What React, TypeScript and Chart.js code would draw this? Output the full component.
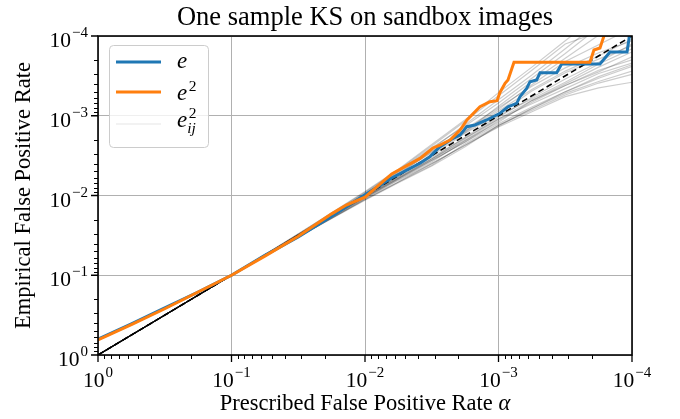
import React, { useEffect, useRef } from "react";
import { Chart, registerables } from "chart.js";

Chart.register(...registerables);

// ---------- text ----------
const TITLE = "One sample KS on sandbox images";
const X_LABEL = "Prescribed False Positive Rate";
const Y_LABEL = "Empirical False Positive Rate";

// ---------- axes (log10 exponents) ----------
const TICK_EXPONENTS = [0, -1, -2, -3, -4];
const MINOR_MANTISSAS = [2, 3, 4, 5, 6, 7, 8, 9];

// ---------- data, stored as log10 values ----------
// e (blue)
const E_LOG_X = [0, -0.25, -0.5, -0.75, -1, -1.25, -1.5, -1.75, -2, -2.2, -2.412, -2.487, -2.562, -2.659, -2.712, -2.762, -2.824, -2.912, -3.011, -3.071, -3.136, -3.161, -3.211, -3.236, -3.286, -3.311, -3.436, -3.473, -3.76, -3.835, -3.963, -3.985];
const E_LOG_Y = [-0.2, -0.39, -0.59, -0.79, -1.0, -1.25, -1.48, -1.74, -2.01, -2.22, -2.404, -2.487, -2.612, -2.717, -2.759, -2.863, -2.884, -2.947, -3.031, -3.113, -3.156, -3.239, -3.344, -3.427, -3.448, -3.54, -3.54, -3.649, -3.649, -3.8, -3.8, -4.05];

// e^2 (orange)
const E2_LOG_X = [0, -0.25, -0.5, -0.75, -1, -1.25, -1.5, -1.75, -1.86, -2, -2.2, -2.412, -2.509, -2.562, -2.637, -2.712, -2.764, -2.861, -2.936, -2.989, -3.011, -3.049, -3.071, -3.116, -3.685, -3.715, -3.76, -3.79, -3.795];
const E2_LOG_Y = [-0.19, -0.38, -0.58, -0.79, -1.0, -1.24, -1.49, -1.77, -1.88, -1.98, -2.27, -2.465, -2.596, -2.633, -2.696, -2.821, -2.947, -3.113, -3.176, -3.189, -3.292, -3.407, -3.448, -3.67, -3.67, -3.824, -3.85, -4.0, -4.05];

// e_ij^2 (thin grey runs)
const EIJ_LOG_X = [0, -1, -1.52, -2, -2.25, -2.5, -2.75, -3, -3.25, -3.5, -3.75, -4];
const EIJ_LOG_Y: number[][] = [
  [0, -1, -1.52, -1.98, -2.21, -2.44, -2.67, -2.90, -3.11, -3.30, -3.47, -3.62],
  [0, -1, -1.53, -2.02, -2.30, -2.58, -2.89, -3.20, -3.51, -3.84, -4.17, -4.50],
  [0, -1, -1.50, -1.96, -2.19, -2.40, -2.63, -2.86, -3.05, -3.24, -3.35, -3.42],
  [0, -1, -1.52, -2.00, -2.24, -2.48, -2.72, -2.96, -3.19, -3.40, -3.61, -3.80],
  [0, -1, -1.54, -2.04, -2.32, -2.62, -2.93, -3.25, -3.57, -3.90, -4.05, -4.20],
  [0, -1, -1.50, -1.95, -2.17, -2.38, -2.65, -2.88, -3.07, -3.26, -3.41, -3.52],
  [0, -1, -1.52, -1.99, -2.27, -2.50, -2.78, -3.02, -3.31, -3.54, -3.71, -3.88],
  [0, -1, -1.53, -2.01, -2.23, -2.46, -2.69, -2.92, -3.19, -3.38, -3.57, -3.70],
  [0, -1, -1.51, -1.97, -2.20, -2.42, -2.69, -2.96, -3.15, -3.34, -3.53, -3.66],
  [0, -1, -1.53, -2.03, -2.31, -2.60, -2.87, -3.16, -3.47, -3.78, -4.11, -4.45],
  [0, -1, -1.50, -1.95, -2.17, -2.40, -2.63, -2.87, -3.09, -3.28, -3.43, -3.56],
  [0, -1, -1.52, -1.98, -2.22, -2.46, -2.73, -3.00, -3.21, -3.42, -3.65, -3.84],
  [0, -1, -1.53, -2.02, -2.28, -2.54, -2.83, -3.10, -3.37, -3.60, -3.79, -3.94],
  [0, -1, -1.50, -1.94, -2.16, -2.37, -2.61, -2.88, -3.09, -3.30, -3.49, -3.64],
  [0, -1, -1.52, -2.00, -2.27, -2.55, -2.81, -3.08, -3.39, -3.68, -3.89, -4.10],
  [0, -1, -1.51, -1.97, -2.21, -2.44, -2.67, -2.94, -3.17, -3.38, -3.55, -3.74],
  [0, -1, -1.54, -2.05, -2.33, -2.64, -2.95, -3.29, -3.61, -3.94, -4.27, -4.60],
  [0, -1, -1.52, -1.99, -2.22, -2.45, -2.71, -2.98, -3.23, -3.46, -3.67, -3.90],
  [0, -1, -1.52, -2.01, -2.29, -2.56, -2.79, -3.06, -3.33, -3.56, -3.75, -3.96],
  [0, -1, -1.51, -1.98, -2.24, -2.52, -2.80, -3.12, -3.43, -3.72, -4.01, -4.30],
];

// reference diagonal y = x
const DIAG_LOG = [0, -4];

// ---------- style ----------
const SERIF = "'Liberation Serif', 'DejaVu Serif', serif";
const BLUE = "#1f77b4";
const ORANGE = "#ff7f0e";
const GREY_RUN = "rgba(0,0,0,0.2)";

const toPoints = (lx: number[], ly: number[]) =>
  lx.map((v, i) => ({ x: Math.pow(10, v), y: Math.pow(10, ly[i]) }));

function drawPow10(ctx: CanvasRenderingContext2D, exp: number, x: number, baseline: number, align: "center" | "right") {
  const base = "10";
  const sup = exp === 0 ? "0" : "\u2212" + Math.abs(exp);
  ctx.font = `21.5px ${SERIF}`;
  const wb = ctx.measureText(base).width;
  ctx.font = `15px ${SERIF}`;
  const ws = ctx.measureText(sup).width;
  const total = wb + 1 + ws;
  const left = align === "center" ? x - total / 2 : x - total;
  ctx.textAlign = "left";
  ctx.textBaseline = "alphabetic";
  ctx.font = `21.5px ${SERIF}`;
  ctx.fillText(base, left, baseline);
  ctx.font = `15px ${SERIF}`;
  ctx.fillText(sup, left + wb + 1, baseline - 10);
}

const mplPlugin = {
  id: "mplDecor",
  afterDraw(chart: any) {
    const ctx: CanvasRenderingContext2D = chart.ctx;
    const { left, right, top, bottom } = chart.chartArea;
    const xs = chart.scales.x;
    const ys = chart.scales.y;
    ctx.save();
    ctx.fillStyle = "#000";
    ctx.strokeStyle = "#000";

    // tick marks
    const majors = TICK_EXPONENTS.map((e) => Math.pow(10, e));
    const minors: number[] = [];
    TICK_EXPONENTS.slice(0, -1).forEach((e) => MINOR_MANTISSAS.forEach((m) => minors.push(m * Math.pow(10, e - 1))));
    ctx.lineWidth = 1.3;
    ctx.beginPath();
    majors.forEach((v) => {
      const px = xs.getPixelForValue(v);
      ctx.moveTo(px, bottom);
      ctx.lineTo(px, bottom + 7);
      const py = ys.getPixelForValue(v);
      ctx.moveTo(left, py);
      ctx.lineTo(left - 7, py);
    });
    ctx.stroke();
    ctx.lineWidth = 1;
    ctx.beginPath();
    minors.forEach((v) => {
      const px = Math.round(xs.getPixelForValue(v)) + 0.5;
      ctx.moveTo(px, bottom);
      ctx.lineTo(px, bottom + 4);
      const py = Math.round(ys.getPixelForValue(v)) + 0.5;
      ctx.moveTo(left, py);
      ctx.lineTo(left - 4, py);
    });
    ctx.stroke();

    // frame
    ctx.lineWidth = 1.6;
    ctx.strokeRect(left, top, right - left, bottom - top);

    // tick labels
    TICK_EXPONENTS.forEach((e) => {
      const v = Math.pow(10, e);
      drawPow10(ctx, e, xs.getPixelForValue(v), bottom + 32, "center");
      drawPow10(ctx, e, left - 10, ys.getPixelForValue(v) + 11, "right");
    });

    // title
    ctx.textAlign = "center";
    ctx.textBaseline = "alphabetic";
    ctx.font = `26.5px ${SERIF}`;
    ctx.fillText(TITLE, (left + right) / 2, 25);

    // x label with italic alpha
    ctx.font = `22.5px ${SERIF}`;
    const wl = ctx.measureText(X_LABEL + " ").width;
    ctx.font = `italic 22.5px ${SERIF}`;
    const wa = ctx.measureText("\u03b1").width;
    const xl = (left + right) / 2 - (wl + wa) / 2;
    ctx.textAlign = "left";
    ctx.font = `22.5px ${SERIF}`;
    ctx.fillText(X_LABEL + " ", xl, 410);
    ctx.font = `italic 22.5px ${SERIF}`;
    ctx.fillText("\u03b1", xl + wl, 410);

    // y label
    ctx.save();
    ctx.translate(30, (top + bottom) / 2);
    ctx.rotate(-Math.PI / 2);
    ctx.textAlign = "center";
    ctx.font = `22.5px ${SERIF}`;
    ctx.fillText(Y_LABEL, 0, 0);
    ctx.restore();

    // legend
    const bx = 109, by = 45, bw = 99, bh = 102;
    ctx.beginPath();
    (ctx as any).roundRect(bx + 0.5, by + 0.5, bw, bh, 4);
    ctx.fillStyle = "rgba(255,255,255,0.8)";
    ctx.fill();
    ctx.strokeStyle = "#cccccc";
    ctx.lineWidth = 1;
    ctx.stroke();
    const rows = [
      { color: BLUE, width: 3, y: 62, base: 68 },
      { color: ORANGE, width: 3, y: 92, base: 100 },
      { color: "rgba(0,0,0,0.1)", width: 1, y: 124, base: 127 },
    ];
    rows.forEach((r, i) => {
      ctx.strokeStyle = r.color;
      ctx.lineWidth = r.width;
      ctx.beginPath();
      ctx.moveTo(116, r.y);
      ctx.lineTo(161, r.y);
      ctx.stroke();
      ctx.fillStyle = "#000";
      ctx.textAlign = "left";
      ctx.font = `italic 23px ${SERIF}`;
      ctx.fillText("e", 177, r.base);
      const we = ctx.measureText("e").width;
      if (i >= 1) {
        ctx.font = `15.5px ${SERIF}`;
        ctx.fillText("2", 177 + we + 1.5, r.base - 9);
      }
      if (i === 2) {
        ctx.font = `italic 15.5px ${SERIF}`;
        ctx.fillText("ij", 177 + we, r.base + 6);
      }
    });
    ctx.restore();
  },
};

export default function App() {
  const ref = useRef<HTMLCanvasElement | null>(null);

  useEffect(() => {
    document.body.style.margin = "0";
    const canvas = ref.current;
    if (!canvas) return;

    const greyDatasets = EIJ_LOG_Y.map((ly, i) => ({
      label: i === 0 ? "e_ij^2" : "",
      data: toPoints(EIJ_LOG_X, ly),
      borderColor: GREY_RUN,
      borderWidth: 1.2,
      pointRadius: 0,
      order: 3,
    }));

    const datasets: any[] = [
      ...greyDatasets,
      {
        label: "diag",
        data: toPoints(DIAG_LOG, DIAG_LOG),
        borderColor: "#000",
        borderWidth: 1.6,
        borderDash: [6, 3.5],
        pointRadius: 0,
        order: 2,
      },
      {
        label: "e",
        data: toPoints(E_LOG_X, E_LOG_Y),
        borderColor: BLUE,
        borderWidth: 3,
        pointRadius: 0,
        order: 1,
      },
      {
        label: "e^2",
        data: toPoints(E2_LOG_X, E2_LOG_Y),
        borderColor: ORANGE,
        borderWidth: 3,
        pointRadius: 0,
        order: 0,
      },
    ];

    const majorTicks = TICK_EXPONENTS.map((e) => ({ value: Math.pow(10, e) }));

    const chart = new Chart(canvas, {
      type: "line",
      data: { datasets },
      options: {
        responsive: false,
        animation: false,
        devicePixelRatio: 1,
        layout: { padding: { left: 0, right: 48, top: 36, bottom: 0 } },
        plugins: { legend: { display: false }, tooltip: { enabled: false }, title: { display: false } },
        elements: { point: { radius: 0 }, line: { tension: 0, borderJoinStyle: "miter" as any } },
        scales: {
          x: {
            type: "logarithmic",
            reverse: true,
            min: 1e-4,
            max: 1,
            afterFit: (s: any) => { s.height = 64; },
            afterBuildTicks: (s: any) => { s.ticks = majorTicks.map((t) => ({ ...t })); },
            ticks: { display: false },
            grid: { color: "#b0b0b0", lineWidth: 1, drawTicks: false },
            border: { display: false },
          },
          y: {
            type: "logarithmic",
            reverse: true,
            min: 1e-4,
            max: 1,
            afterFit: (s: any) => { s.width = 98; },
            afterBuildTicks: (s: any) => { s.ticks = majorTicks.map((t) => ({ ...t })); },
            ticks: { display: false },
            grid: { color: "#b0b0b0", lineWidth: 1, drawTicks: false },
            border: { display: false },
          },
        },
      } as any,
      plugins: [mplPlugin],
    });

    return () => chart.destroy();
  }, []);

  return (
    <div style={{ position: "fixed", left: 0, top: 0, width: 680, height: 419, background: "#fff" }}>
      <canvas ref={ref} width={680} height={419} style={{ width: 680, height: 419, display: "block" }} />
    </div>
  );
}
